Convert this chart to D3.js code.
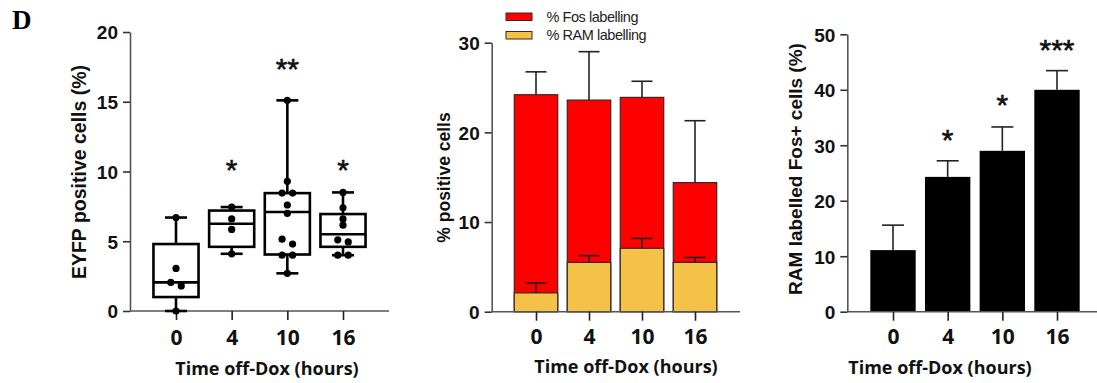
<!DOCTYPE html>
<html>
<head>
<meta charset="utf-8">
<script src="https://cdn.jsdelivr.net/npm/d3@7"></script>
<style>
  body { margin: 0; background: #fff; }
  svg { display: block; }
</style>
</head>
<body>
<svg id="fig" width="1097" height="383"></svg>
<script>
// groups (hours off Dox)
const groups = ["0", "4", "10", "16"];

// left panel: EYFP positive cells, box plots
const eyfpMin    = [0, 4.1, 2.7, 4.0];
const eyfpQ1     = [1.0, 4.6, 4.05, 4.6];
const eyfpMedian = [2.05, 6.25, 7.1, 5.5];
const eyfpQ3     = [4.8, 7.2, 8.45, 6.95];
const eyfpMax    = [6.7, 7.45, 15.1, 8.5];
const eyfpPoints = [
  [6.7, 3.05, 2.05, 1.8, 0],
  [7.45, 6.6, 5.85, 4.1],
  [15.1, 9.3, 8.45, 8.45, 7.6, 7.0, 5.15, 4.8, 4.0, 4.0, 2.7],
  [8.5, 7.4, 6.6, 6.15, 5.1, 4.95, 4.0, 4.0]
];
const eyfpStars  = ["", "*", "**", "*"];
const eyfpStarY  = [null, 10.6, 17.8, 10.6];

// middle panel: % positive cells (mean + SEM)
const fosMean = [24.2, 23.6, 23.9, 14.4];
const fosSem  = [2.55, 5.4, 1.8, 6.9];
const ramMean = [2.1, 5.5, 7.07, 5.5];
const ramSem  = [1.1, 0.75, 1.1, 0.55];
const legendLabels = ["% Fos labelling", "% RAM labelling"];

// right panel: RAM labelled Fos+ cells (mean + SEM)
const ratioMean  = [11.1, 24.3, 29.0, 40.0];
const ratioSem   = [4.5, 2.9, 4.3, 3.45];
const ratioStars = ["", "*", "*", "***"];
const ratioStarY = [null, 32.2, 38.5, 48.4];

const RED = "#fe0000", YELLOW = "#f4c247";
const tickFont = "'Liberation Sans', Arial, sans-serif";
const xFont = "'Open Sans', sans-serif";

const svg = d3.select("#fig");

// panel letter
svg.append("text")
  .attr("x", 12).attr("y", 29)
  .attr("font-family", "'Liberation Serif', 'Times New Roman', serif")
  .attr("font-weight", "bold").attr("font-size", 27)
  .text("D");

// shared axis drawing
function drawAxes(x, y, axisLeft, axisRight, yTicks, title, titleX, titleSize, xTitleY) {
  const y0 = y(0);
  // y axis
  const ya = svg.append("g")
    .attr("transform", `translate(${axisLeft},0)`)
    .call(d3.axisLeft(y).tickValues(yTicks).tickSize(7).tickPadding(5).tickSizeOuter(0));
  ya.select(".domain").attr("stroke", "#555").attr("stroke-width", 1.6);
  ya.selectAll(".tick line").attr("stroke", "#333").attr("stroke-width", 1.6);
  ya.selectAll(".tick text")
    .attr("font-family", tickFont).attr("font-weight", "bold")
    .attr("font-size", 19).attr("fill", "#111").attr("dy", "0.36em");

  // x axis line spans past the last group
  svg.append("line")
    .attr("x1", axisLeft).attr("x2", axisRight)
    .attr("y1", y0).attr("y2", y0)
    .attr("stroke", "#555").attr("stroke-width", 1.6);
  const xa = svg.append("g")
    .attr("transform", `translate(0,${y0})`)
    .call(d3.axisBottom(x).tickSize(9).tickSizeOuter(0));
  xa.select(".domain").remove();
  xa.selectAll(".tick line").attr("stroke", "#222").attr("stroke-width", 1.6);
  xa.selectAll(".tick text")
    .attr("font-family", xFont).attr("font-weight", "bold")
    .attr("font-size", 21).attr("fill", "#111")
    .attr("y", 344.5 - y0).attr("dy", null);

  // axis titles
  svg.append("text")
    .attr("transform", `translate(${titleX},${title.cy}) rotate(-90)`)
    .attr("text-anchor", "middle")
    .attr("font-family", tickFont).attr("font-weight", "bold")
    .attr("font-size", titleSize).attr("fill", "#111")
    .text(title.text);
  svg.append("text")
    .attr("x", title.xcx).attr("y", xTitleY)
    .attr("text-anchor", "middle")
    .attr("font-family", xFont).attr("font-weight", "bold")
    .attr("font-size", 18).attr("fill", "#111")
    .text("Time off-Dox (hours)");
}

function drawStars(x, y, stars, levels, size) {
  stars.forEach((s, i) => {
    if (!s) return;
    // asterisk glyph sits high in the em box: shift baseline down
    svg.append("text")
      .attr("x", x(groups[i])).attr("y", y(levels[i]) + size * 0.55)
      .attr("text-anchor", "middle")
      .attr("font-family", tickFont)
      .attr("font-size", size).attr("fill", "#111")
      .attr("stroke", "#111").attr("stroke-width", 0.6)
      .text(s);
  });
}

function drawErrorUp(x, y, values, sems, capW) {
  groups.forEach((g, i) => {
    const cx = x(g), top = y(values[i] + sems[i]);
    svg.append("line").attr("x1", cx).attr("x2", cx)
      .attr("y1", y(values[i])).attr("y2", top)
      .attr("stroke", "#222").attr("stroke-width", 1.6);
    svg.append("line").attr("x1", cx - capW / 2).attr("x2", cx + capW / 2)
      .attr("y1", top).attr("y2", top)
      .attr("stroke", "#222").attr("stroke-width", 1.6);
  });
}

// ---------- left panel: box plots ----------
{
  const x = d3.scalePoint().domain(groups).range([176, 343]);
  const y = d3.scaleLinear().domain([0, 20]).range([311, 32]);
  const boxW = x.step() * 0.81;

  drawAxes(x, y, 130, 389, [0, 5, 10, 15, 20],
    { text: "EYFP positive cells (%)", cy: 172, xcx: 267 }, 86, 19.5, 375);

  groups.forEach((g, i) => {
    const cx = x(g);
    const box = svg.append("g").attr("stroke", "#000").attr("stroke-width", 2.6).attr("fill", "none");
    // whiskers + caps
    box.append("line").attr("x1", cx).attr("x2", cx).attr("y1", y(eyfpQ3[i])).attr("y2", y(eyfpMax[i]));
    box.append("line").attr("x1", cx).attr("x2", cx).attr("y1", y(eyfpQ1[i])).attr("y2", y(eyfpMin[i]));
    [eyfpMax[i], eyfpMin[i]].forEach(v => {
      box.append("line").attr("x1", cx - 11).attr("x2", cx + 11).attr("y1", y(v)).attr("y2", y(v));
    });
    box.append("rect")
      .attr("x", cx - boxW / 2).attr("y", y(eyfpQ3[i]))
      .attr("width", boxW).attr("height", y(eyfpQ1[i]) - y(eyfpQ3[i]))
      .attr("fill", "#fff");
    box.append("line").attr("x1", cx - boxW / 2).attr("x2", cx + boxW / 2)
      .attr("y1", y(eyfpMedian[i])).attr("y2", y(eyfpMedian[i]));

    // simple dodge: points closer than 6px vertically spread side by side
    const pts = eyfpPoints[i].slice().sort((a, b) => b - a);
    const clusters = [];
    pts.forEach(v => {
      const last = clusters[clusters.length - 1];
      if (last && Math.abs(y(v) - y(last[last.length - 1])) < 6) last.push(v);
      else clusters.push([v]);
    });
    clusters.forEach(c => {
      c.forEach((v, k) => {
        svg.append("circle")
          .attr("cx", cx + (k - (c.length - 1) / 2) * 10.5)
          .attr("cy", y(v)).attr("r", 3.6).attr("fill", "#000");
      });
    });
  });

  drawStars(x, y, eyfpStars, eyfpStarY, 30);
}

// ---------- middle panel: overlaid bars ----------
{
  const x = d3.scalePoint().domain(groups).range([536, 695]);
  const y = d3.scaleLinear().domain([0, 30]).range([311.7, 42.7]);
  const barW = x.step() * 0.82;

  groups.forEach((g, i) => {
    svg.append("rect")
      .attr("x", x(g) - barW / 2).attr("y", y(fosMean[i]))
      .attr("width", barW).attr("height", y(0) - y(fosMean[i]))
      .attr("fill", RED).attr("stroke", "#3a2626").attr("stroke-width", 1.2);
  });
  drawErrorUp(x, y, fosMean, fosSem, 21);
  groups.forEach((g, i) => {
    svg.append("rect")
      .attr("x", x(g) - barW / 2).attr("y", y(ramMean[i]))
      .attr("width", barW).attr("height", y(0) - y(ramMean[i]))
      .attr("fill", YELLOW).attr("stroke", "#3a2626").attr("stroke-width", 1.2);
  });
  drawErrorUp(x, y, ramMean, ramSem, 21);

  drawAxes(x, y, 491.7, 740, [0, 10, 20, 30],
    { text: "% positive cells", cy: 177.5, xcx: 626 }, 449.5, 17.5, 372.7);

  // legend
  const leg = svg.append("g");
  [RED, YELLOW].forEach((c, k) => {
    leg.append("rect")
      .attr("x", 506).attr("y", 13 + k * 18.5)
      .attr("width", 26).attr("height", 7.5)
      .attr("fill", c).attr("stroke", "#3a2626").attr("stroke-width", 1);
    leg.append("text")
      .attr("x", 546.5).attr("y", 21.5 + k * 18)
      .attr("font-family", tickFont).attr("font-size", 14.5)
      .attr("letter-spacing", -0.45).attr("fill", "#222")
      .text(legendLabels[k]);
  });
}

// ---------- right panel: black bars ----------
{
  const x = d3.scalePoint().domain(groups).range([893, 1057]);
  const y = d3.scaleLinear().domain([0, 50]).range([311.7, 34.3]);
  const barW = x.step() * 0.83;

  drawErrorUp(x, y, ratioMean, ratioSem, 22);
  groups.forEach((g, i) => {
    svg.append("rect")
      .attr("x", x(g) - barW / 2).attr("y", y(ratioMean[i]))
      .attr("width", barW).attr("height", y(0) - y(ratioMean[i]))
      .attr("fill", "#000");
  });

  drawAxes(x, y, 847.3, 1097, [0, 10, 20, 30, 40, 50],
    { text: "RAM labelled Fos+ cells (%)", cy: 169, xcx: 940 }, 801.5, 19, 374);

  drawStars(x, y, ratioStars, ratioStarY, 30);
}
</script>
</body>
</html>
